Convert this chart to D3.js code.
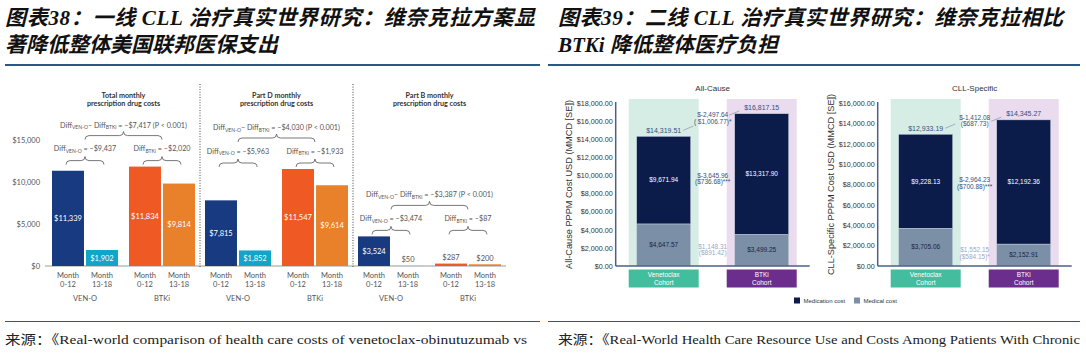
<!DOCTYPE html>
<html>
<head>
<meta charset="utf-8">
<script src="https://cdn.jsdelivr.net/npm/d3@7"></script>
<style>
  body { margin: 0; background: #fff; }
  svg { display: block; }
</style>
</head>
<body>
<div class="canvas"></div>
<script>
// ---- headers / sources ----
const leftTitle = ["图表38：一线 CLL 治疗真实世界研究：维奈克拉方案显", "著降低整体美国联邦医保支出"];
const rightTitle = ["图表39：二线 CLL 治疗真实世界研究：维奈克拉相比", "BTKi 降低整体医疗负担"];
const sources = [
  "来源：《Real-world comparison of health care costs of venetoclax-obinutuzumab vs",
  "来源：《Real-World Health Care Resource Use and Costs Among Patients With Chronic",
];

// ---- left chart (figure 38) ----
const panelTitles = [
  ["Total monthly", "prescription drug costs"],
  ["Part D monthly", "prescription drug costs"],
  ["Part B monthly", "prescription drug costs"],
];
const cohorts = ["VEN-O", "BTKi"];
const periods = ["0-12", "13-18"];
const venCosts = [[11339, 1902], [7815, 1852], [3524, 50]];
const btkiCosts = [[11834, 9814], [11547, 9614], [287, 200]];
const diffVen = [-9437, -5963, -3474];
const diffBtki = [-2020, -1933, -87];
const diffOfDiff = [-7417, -4030, -3387];
const leftTicks = [0, 5000, 10000, 15000];

// ---- right chart (figure 39) ----
const rightTitles = ["All-Cause", "CLL-Specific"];
const rightAxisTitles = ["All-Cause PPPM Cost USD (MMCD [SE])", "CLL-Specific PPPM Cost USD (MMCD [SE])"];
const rightCohorts = [["Venetoclax", "Cohort"], ["BTKi", "Cohort"]];
const medicalCost = [[4647.57, 3499.25], [3705.06, 2152.91]];
const medicationCost = [[9671.94, 13317.9], [9228.13, 12192.36]];
const rightMax = [18000, 16000];
const totalDiff = [["$-2,497.64", "( $1,006.77)*"], ["$-1,412.08", "($687.73)"]];
const medicationDiff = [["$-3,645.96", "($736.68)***"], ["$-2,964.23", "($700.88)***"]];
const medicalDiff = [["$1,148.31", "($891.42)"], ["$1,552.15", "($584.15)*"]];
const legendItems = ["Medication cost", "Medical cost"];

const width = 1086;
const height = 354;

const svg = d3
  .select(".canvas")
  .append("svg")
  .attr("width", width)
  .attr("height", height);

// headers
const titleFont = "'Liberation Serif', 'Noto Sans CJK SC', serif";
[leftTitle, rightTitle].forEach((lines, i) => {
  const x0 = i === 0 ? 5 : 558;
  const g = svg.append("g");
  lines.forEach((t, j) => {
    const txt = g
      .append("text")
      .attr("x", x0)
      .attr("y", j === 0 ? 25 : 52)
      .attr("font-family", titleFont)
      .attr("font-weight", "bold")
      .attr("font-style", "italic")
      .attr("font-size", 21)
      .attr("fill", "#111")
      .text(t);
    if (j === 0) {
      txt.attr("textLength", i === 0 ? 530 : 505).attr("lengthAdjust", "spacing");
    }
  });
  svg
    .append("line")
    .attr("x1", i === 0 ? 5 : 548)
    .attr("x2", i === 0 ? 540 : 1080)
    .attr("y1", 65)
    .attr("y2", 65)
    .attr("stroke", "#2a5783")
    .attr("stroke-width", 2);
  svg
    .append("line")
    .attr("x1", i === 0 ? 5 : 548)
    .attr("x2", i === 0 ? 540 : 1080)
    .attr("y1", 321.5)
    .attr("y2", 321.5)
    .attr("stroke", "#2a5783")
    .attr("stroke-width", 1);
  svg
    .append("text")
    .attr("x", i === 0 ? 5 : 558)
    .attr("y", 344)
    .attr("font-family", titleFont)
    .attr("font-size", 13)
    .attr("fill", "#222")
    .attr("textLength", 522)
    .attr("lengthAdjust", "spacingAndGlyphs")
    .text(sources[i]);
});

// ================= LEFT =================
const leftFont = "Lato, 'Open Sans', sans-serif";
const grey = "#555";
const yL = d3.scaleLinear().domain([0, 15000]).range([266, 140]);
const panelX = d3.scaleBand().domain([0, 1, 2]).range([47, 506]);
const cohortX = d3
  .scaleBand()
  .domain(cohorts)
  .range([5, panelX.bandwidth() - 5])
  .paddingInner(0.143);
const periodX = d3
  .scaleBand()
  .domain(periods)
  .range([0, cohortX.bandwidth()])
  .paddingInner(0.06);
const barColor = d3
  .scaleOrdinal()
  .domain(["VEN-O|0-12", "VEN-O|13-18", "BTKi|0-12", "BTKi|13-18"])
  .range(["#173a80", "#12a4c9", "#ef5a24", "#e8812a"]);

const left = svg.append("g").attr("font-family", leftFont);

// y tick labels
left
  .selectAll(".ytick")
  .data(leftTicks)
  .enter()
  .append("text")
  .attr("x", 40)
  .attr("y", (d) => yL(d))
  .attr("dy", "0.35em")
  .attr("text-anchor", "end")
  .attr("font-size", 7.5)
  .attr("fill", grey)
  .text((d) => d3.format("$,")(d));

// baseline
left
  .append("line")
  .attr("x1", 45)
  .attr("x2", 506)
  .attr("y1", yL(0))
  .attr("y2", yL(0))
  .attr("stroke", "#9a9a9a")
  .attr("stroke-width", 1);

// dotted dividers
left
  .selectAll(".divider")
  .data([1, 2])
  .enter()
  .append("line")
  .attr("x1", (d) => panelX(d))
  .attr("x2", (d) => panelX(d))
  .attr("y1", 84)
  .attr("y2", 268)
  .attr("stroke", "#444")
  .attr("stroke-width", 1)
  .attr("stroke-dasharray", "1,1.6");

const bars = [];
panelTitles.forEach((t, p) => {
  cohorts.forEach((c, ci) => {
    periods.forEach((m, mi) => {
      const v = ci === 0 ? venCosts[p][mi] : btkiCosts[p][mi];
      bars.push({ p, c, m, v, x: panelX(p) + cohortX(c) + periodX(m) });
    });
  });
});

left
  .selectAll(".bar")
  .data(bars)
  .enter()
  .append("rect")
  .attr("x", (d) => d.x)
  .attr("width", periodX.bandwidth())
  .attr("y", (d) => Math.min(yL(d.v), yL(0) - 1))
  .attr("height", (d) => Math.max(yL(0) - yL(d.v), 1))
  .attr("fill", (d) => (d.v < 100 ? "#b9cdd6" : barColor(d.c + "|" + d.m)));

left
  .selectAll(".barlabel")
  .data(bars)
  .enter()
  .append("text")
  .attr("x", (d) => d.x + periodX.bandwidth() / 2)
  .attr("y", (d) => {
    const h = yL(0) - yL(d.v);
    return h >= 12 ? (yL(d.v) + yL(0)) / 2 : yL(d.v) - 6;
  })
  .attr("dy", "0.35em")
  .attr("text-anchor", "middle")
  .attr("font-size", 7.5)
  .attr("fill", (d) => (yL(0) - yL(d.v) >= 12 ? "#fff" : grey))
  .text((d) => d3.format("$,")(d.v));

// x labels
bars.forEach((d) => {
  const cx = d.x + periodX.bandwidth() / 2;
  left
    .append("text")
    .attr("x", cx)
    .attr("y", 277.5)
    .attr("text-anchor", "middle")
    .attr("font-size", 7.5)
    .attr("fill", grey)
    .text("Month");
  left
    .append("text")
    .attr("x", cx)
    .attr("y", 287)
    .attr("text-anchor", "middle")
    .attr("font-size", 7.5)
    .attr("fill", grey)
    .text(d.m);
});
panelTitles.forEach((t, p) => {
  cohorts.forEach((c) => {
    left
      .append("text")
      .attr("x", panelX(p) + cohortX(c) + cohortX.bandwidth() / 2)
      .attr("y", 301)
      .attr("text-anchor", "middle")
      .attr("font-size", 7.5)
      .attr("fill", grey)
      .text(c);
  });
});

// panel titles
panelTitles.forEach((lines, p) => {
  lines.forEach((l, j) => {
    left
      .append("text")
      .attr("x", panelX(p) + panelX.bandwidth() / 2)
      .attr("y", 97.5 + j * 8.5)
      .attr("text-anchor", "middle")
      .attr("font-size", 7.2)
      .attr("font-weight", "bold")
      .attr("fill", "#333")
      .text(l);
  });
});

// braces + diff labels
const fmtDiff = (v) => (v < 0 ? "–" : "") + "$" + d3.format(",")(Math.abs(v));

function brace(x0, x1, yb) {
  const xm = (x0 + x1) / 2;
  const ym = yb - 4;
  const yt = yb - 8;
  return `M${x0},${yb} Q${x0},${ym} ${x0 + 4},${ym} L${xm - 4},${ym} Q${xm},${ym} ${xm},${yt} Q${xm},${ym} ${xm + 4},${ym} L${x1 - 4},${ym} Q${x1},${ym} ${x1},${yb}`;
}

function diffLabel(x, y, parts) {
  const t = left
    .append("text")
    .attr("x", x)
    .attr("y", y + 2.5)
    .attr("text-anchor", "middle")
    .attr("font-size", 7.2)
    .attr("fill", grey);
  parts.forEach((pt) => {
    if (pt.sub) {
      t.append("tspan").attr("dy", 1.8).attr("font-size", 5).text(pt.sub);
    } else {
      t.append("tspan").attr("dy", pt.after ? -1.8 : 0).text(pt.s);
    }
  });
}

panelTitles.forEach((t, p) => {
  const panelMax = d3.max(bars.filter((b) => b.p === p), (b) => b.v);
  const smallB = yL(panelMax) - 2;
  const bigB = smallB - 25;
  const centers = cohorts.map((c) => {
    const x0 = panelX(p) + cohortX(c);
    return {
      a: x0 + periodX.bandwidth() / 2 - 2,
      b: x0 + periodX("13-18") + periodX.bandwidth() / 2 + 2,
      m: x0 + cohortX.bandwidth() / 2,
    };
  });
  centers.forEach((cc, ci) => {
    left
      .append("path")
      .attr("d", brace(cc.a, cc.b, smallB))
      .attr("fill", "none")
      .attr("stroke", grey)
      .attr("stroke-width", 0.8);
    diffLabel(cc.m, smallB - 16, [
      { s: "Diff" },
      { sub: cohorts[ci] === "VEN-O" ? "VEN-O" : "BTKi" },
      { s: " = " + fmtDiff(ci === 0 ? diffVen[p] : diffBtki[p]), after: true },
    ]);
  });
  left
    .append("path")
    .attr("d", brace(centers[0].m, centers[1].m, bigB))
    .attr("fill", "none")
    .attr("stroke", grey)
    .attr("stroke-width", 0.8);
  diffLabel((centers[0].m + centers[1].m) / 2, bigB - 14.5, [
    { s: "Diff" },
    { sub: "VEN-O" },
    { s: "– Diff", after: true },
    { sub: "BTKi" },
    { s: " = " + fmtDiff(diffOfDiff[p]) + " (P < 0.001)", after: true },
  ]);
});

// ================= RIGHT =================
const rightFont = "'Liberation Sans', Arial, sans-serif";
const chartX = d3.scaleBand().domain([0, 1]).range([548, 1072]);
const axisOffset = 67.7;
const yTop = 103;
const yBase = 266;
const bgColors = ["#d6ede6", "#eadbee"];
const boxColors = ["#44bd9f", "#6b2e8d"];
const stackColors = { medication: "#0c1c4a", medical: "#7b8fa6" };
const annoColor = "#36507f";

const right = svg.append("g").attr("font-family", rightFont);

rightTitles.forEach((title, ci) => {
  const ax = chartX(ci) + axisOffset;
  const y = d3.scaleLinear().domain([0, rightMax[ci]]).range([yBase, yTop]);
  const x = d3
    .scaleBand()
    .domain([0, 1])
    .range([ax + 13, ax + 181])
    .paddingInner(0.286);
  const inset = 8;
  const g = right.append("g");

  // backgrounds
  g.selectAll(".bg")
    .data([0, 1])
    .enter()
    .append("rect")
    .attr("x", (d) => x(d))
    .attr("width", x.bandwidth())
    .attr("y", 99)
    .attr("height", yBase - 99)
    .attr("fill", (d) => bgColors[d]);

  // stacked bars
  const stackData = [0, 1].map((k) => ({
    k,
    medical: medicalCost[ci][k],
    medication: medicationCost[ci][k],
  }));
  const series = d3.stack().keys(["medical", "medication"])(stackData);
  series.forEach((s) => {
    g.selectAll(".seg-" + s.key)
      .data(s)
      .enter()
      .append("rect")
      .attr("x", (d) => x(d.data.k) + inset)
      .attr("width", x.bandwidth() - inset * 2)
      .attr("y", (d) => y(d[1]))
      .attr("height", (d) => y(d[0]) - y(d[1]))
      .attr("fill", stackColors[s.key])
      .attr("stroke", "#c9d3e0")
      .attr("stroke-width", 0.5);
    g.selectAll(".lab-" + s.key)
      .data(s)
      .enter()
      .append("text")
      .attr("x", (d) => x(d.data.k) + x.bandwidth() / 2)
      .attr("y", (d) => (y(d[0]) + y(d[1])) / 2)
      .attr("dy", "0.35em")
      .attr("text-anchor", "middle")
      .attr("font-size", 6.5)
      .attr("fill", s.key === "medication" ? "#fff" : "#1a2444")
      .text((d) => d3.format("$,.2f")(d.data[s.key]));
  });

  // totals
  const totals = stackData.map((d) => d.medical + d.medication);
  const totalLabels = g
    .selectAll(".total")
    .data(totals)
    .enter()
    .append("text")
    .attr("x", (d, k) => x(k) + x.bandwidth() / 2)
    .attr("y", (d) => y(d) - 6)
    .attr("dy", "0.35em")
    .attr("text-anchor", "middle")
    .attr("font-size", 7)
    .attr("fill", annoColor)
    .text((d) => d3.format("$,.2f")(d));

  // axis
  const yAxis = d3
    .axisLeft(y)
    .tickValues(d3.range(0, rightMax[ci] + 1, 2000))
    .tickFormat(d3.format("$,.2f"))
    .tickSize(0)
    .tickPadding(3);
  const axg = g.append("g").attr("transform", `translate(${ax},0)`).call(yAxis);
  axg.select(".domain").remove();
  axg.selectAll("text").attr("font-size", 7.2).attr("fill", "#333").attr("font-family", rightFont);
  g.append("line")
    .attr("x1", ax)
    .attr("x2", ax)
    .attr("y1", yTop - 1)
    .attr("y2", yBase)
    .attr("stroke", "#4d5f86")
    .attr("stroke-width", 1.5);
  g.append("line")
    .attr("x1", ax)
    .attr("x2", ax + 194)
    .attr("y1", yBase)
    .attr("y2", yBase)
    .attr("stroke", "#4d5f86")
    .attr("stroke-width", 1.5);

  // axis title
  g.append("text")
    .attr("transform", `translate(${ax - 47},${(yTop + yBase) / 2}) rotate(-90)`)
    .attr("text-anchor", "middle")
    .attr("dy", "0.35em")
    .attr("font-size", 9.2)
    .attr("fill", "#333")
    .text(rightAxisTitles[ci]);

  // chart title
  g.append("text")
    .attr("x", ax + 97)
    .attr("y", 88)
    .attr("dy", "0.35em")
    .attr("text-anchor", "middle")
    .attr("font-size", 8)
    .attr("fill", "#333")
    .text(title);

  // cohort boxes
  [0, 1].forEach((k) => {
    g.append("rect")
      .attr("x", x(k))
      .attr("width", x.bandwidth())
      .attr("y", 269.5)
      .attr("height", 18)
      .attr("fill", boxColors[k]);
    rightCohorts[k].forEach((l, j) => {
      g.append("text")
        .attr("x", x(k) + x.bandwidth() / 2)
        .attr("y", 275 + j * 7.5)
        .attr("dy", "0.35em")
        .attr("text-anchor", "middle")
        .attr("font-size", 6.5)
        .attr("fill", "#fff")
        .text(l);
    });
  });

  // middle annotations
  const midX = (x(0) + x(1) + x.bandwidth()) / 2;
  function twoLine(lines, cy, color) {
    lines.forEach((l, j) => {
      g.append("text")
        .attr("x", midX)
        .attr("y", cy - 3.3 + j * 6.8)
        .attr("dy", "0.35em")
        .attr("text-anchor", "middle")
        .attr("font-size", 6.5)
        .attr("fill", color)
        .text(l);
    });
  }
  const totalMid = (y(totals[0]) + y(totals[1])) / 2 - 6.5;
  twoLine(totalDiff[ci], totalMid, annoColor);
  const medMid =
    d3.mean(stackData, (d) => (y(d.medical) + y(d.medical + d.medication)) / 2) + 1.5;
  twoLine(medicationDiff[ci], medMid, annoColor);
  const medicalMid = d3.mean(stackData, (d) => (y(0) + y(d.medical)) / 2) + 2;
  twoLine(medicalDiff[ci], medicalMid, "#9aa9c9");

  // connector lines
  totalLabels.each(function (d, k) {
    const bb = this.getBBox();
    const ly = y(d) - 6;
    if (k === 0) {
      g.append("line")
        .attr("x1", bb.x + bb.width + 2)
        .attr("y1", ly)
        .attr("x2", bb.x + bb.width + 12)
        .attr("y2", ly - 4.3)
        .attr("stroke", "#8a94a8")
        .attr("stroke-width", 0.7);
    } else {
      g.append("line")
        .attr("x1", bb.x - 15)
        .attr("y1", ly + 7.5)
        .attr("x2", bb.x - 5)
        .attr("y2", ly + 3.3)
        .attr("stroke", "#8a94a8")
        .attr("stroke-width", 0.7);
    }
  });
});

// legend
const legend = right.append("g").attr("transform", "translate(794,297.5)");
const legendG = legend
  .selectAll("g")
  .data(legendItems)
  .enter()
  .append("g")
  .attr("transform", (d, i) => `translate(${i * 60},0)`);
legendG
  .append("rect")
  .attr("width", 6)
  .attr("height", 6)
  .attr("fill", (d, i) => (i === 0 ? stackColors.medication : stackColors.medical));
legendG
  .append("text")
  .attr("x", 9.5)
  .attr("y", 3)
  .attr("dy", "0.35em")
  .attr("font-size", 6)
  .attr("fill", "#333")
  .text((d) => d);
</script>
</body>
</html>
